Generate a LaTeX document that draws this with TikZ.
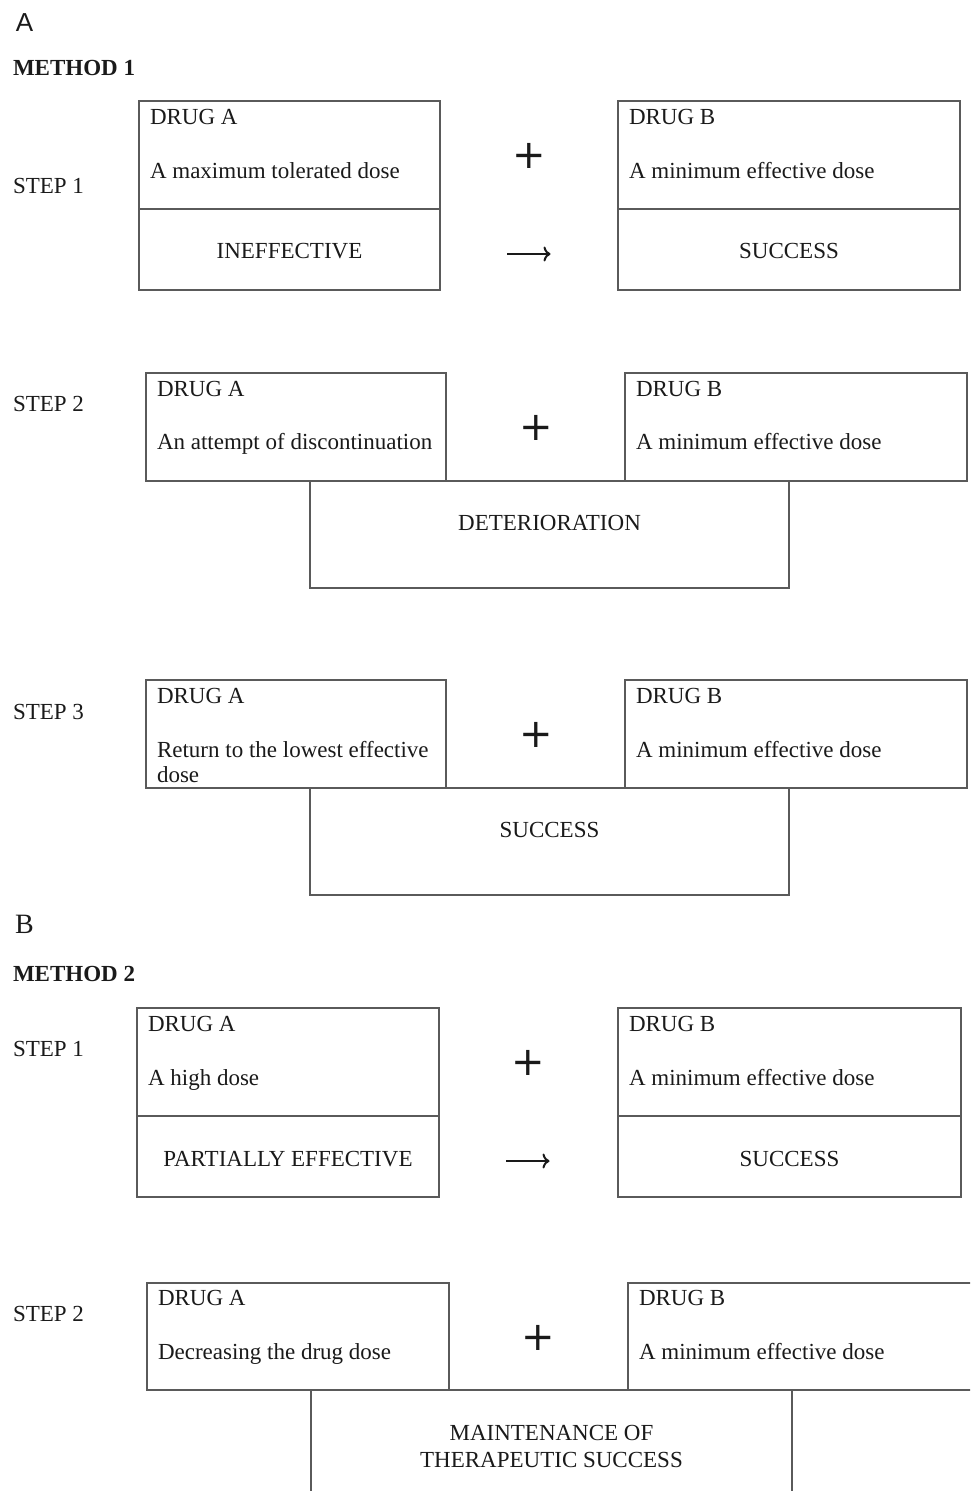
\documentclass[tikz,border=0pt]{standalone}
\usepackage{fontspec}
\usetikzlibrary{arrows.meta}
\setmainfont{Liberation Serif}
\newfontfamily\labelsans{Liberation Sans}
\newfontfamily\symfont{DejaVu Sans}
\definecolor{linegray}{HTML}{5A5A5A}
\definecolor{ink}{HTML}{1A1A1A}
\begin{document}
\begin{tikzpicture}[x=1pt,y=-1pt,
  every node/.style={inner sep=0pt,outer sep=0pt,text=ink},
  box/.style={draw=linegray,line width=1.7pt,anchor=north west,minimum width=#1},
  box/.default=300pt,
  txt/.style={font=\fontsize{23}{26}\selectfont,anchor=base west},
  ctxt/.style={font=\fontsize{23}{26}\selectfont,anchor=base},
  head/.style={font=\fontsize{23}{26}\selectfont\bfseries,anchor=base west},
  plus/.style={font=\symfont\fontsize{40}{40}\selectfont},
  arrowslot/.style={minimum width=44pt,minimum height=18pt},
  symarrow/.style={draw=ink,line width=2.2pt,-{To[length=7pt,width=15pt,line width=2pt]},shorten >=0.5pt}]
\useasboundingbox (0,0) rectangle (970,1491);
\clip (0,0) rectangle (970,1491);
\fill[white] (0,0) rectangle (970,1491);

% ---------- Panel A ----------
\node[font=\labelsans\fontsize{26}{26}\selectfont,anchor=base west] (lA) at (16,31) {A};
\node[head] (m1) at (13,75) {METHOD 1};

% Step 1
\node[txt] (s11) at (13,193) {STEP 1};
\node[box=301pt,minimum height=108pt] (a11) at (139,101) {};
\node[box=301pt,minimum height=81pt] (a11r) at (139,209) {};
\node[box=342pt,minimum height=108pt] (b11) at (618,101) {};
\node[box=342pt,minimum height=81pt] (b11r) at (618,209) {};
\node[txt] (a11t) at (150,124) {DRUG A};
\node[txt] (a11d) at (150,178) {A maximum tolerated dose};
\node[txt] (b11t) at (629,124) {DRUG B};
\node[txt] (b11d) at (629,178) {A minimum effective dose};
\node[ctxt] (a11res) at (289.5,258) {INEFFECTIVE};
\node[ctxt] (b11res) at (789,258) {SUCCESS};
\node[plus] (p11) at (529.5,156) {+};
\node[arrowslot] (r11) at (529,254) {};
\draw[symarrow] (r11.west) -- (r11.east);

% Step 2
\node[txt] (s12) at (13,411) {STEP 2};
\node[box=300pt,minimum height=108pt] (a12) at (146,373) {};
\node[box=342pt,minimum height=108pt] (b12) at (625,373) {};
\node[box=479pt,minimum height=107pt] (r12) at (310,481) {};
\node[txt] (a12t) at (157,396) {DRUG A};
\node[txt] (a12d) at (157,449) {An attempt of discontinuation};
\node[txt] (b12t) at (636,396) {DRUG B};
\node[txt] (b12d) at (636,449) {A minimum effective dose};
\node[ctxt] (r12t) at (549.5,530) {DETERIORATION};
\node[plus] (p12) at (536,428) {+};

% Step 3
\node[txt] (s13) at (13,719) {STEP 3};
\node[box=300pt,minimum height=108pt] (a13) at (146,680) {};
\node[box=342pt,minimum height=108pt] (b13) at (625,680) {};
\node[box=479pt,minimum height=107pt] (r13) at (310,788) {};
\node[txt] (a13t) at (157,703) {DRUG A};
\node[txt] (a13d) at (157,757) {Return to the lowest effective};
\node[txt] (a13e) at (157,782) {dose};
\node[txt] (b13t) at (636,703) {DRUG B};
\node[txt] (b13d) at (636,757) {A minimum effective dose};
\node[ctxt] (r13t) at (549.5,837) {SUCCESS};
\node[plus] (p13) at (536,735) {+};

% ---------- Panel B ----------
\node[font=\fontsize{28}{28}\selectfont,anchor=base west] (lB) at (15,933) {B};
\node[head] (m2) at (13,981) {METHOD 2};

% Step 1
\node[txt] (s21) at (13,1056) {STEP 1};
\node[box=302pt,minimum height=108pt] (a21) at (137,1008) {};
\node[box=302pt,minimum height=81pt] (a21r) at (137,1116) {};
\node[box=343pt,minimum height=108pt] (b21) at (618,1008) {};
\node[box=343pt,minimum height=81pt] (b21r) at (618,1116) {};
\node[txt] (a21t) at (148,1031) {DRUG A};
\node[txt] (a21d) at (148,1085) {A high dose};
\node[txt] (b21t) at (629,1031) {DRUG B};
\node[txt] (b21d) at (629,1085) {A minimum effective dose};
\node[ctxt] (a21res) at (288,1166) {PARTIALLY EFFECTIVE};
\node[ctxt] (b21res) at (789.5,1166) {SUCCESS};
\node[plus] (p21) at (528,1063) {+};
\node[arrowslot] (r21) at (528,1161) {};
\draw[symarrow] (r21.west) -- (r21.east);

% Step 2
\node[txt] (s22) at (13,1321) {STEP 2};
\node[box=302pt,minimum height=107pt] (a22) at (147,1283) {};
\node[box=360pt,minimum height=107pt] (b22) at (628,1283) {};
\node[box=481pt,minimum height=120pt] (r22) at (311,1390) {};
\node[txt] (a22t) at (158,1305) {DRUG A};
\node[txt] (a22d) at (158,1359) {Decreasing the drug dose};
\node[txt] (b22t) at (639,1305) {DRUG B};
\node[txt] (b22d) at (639,1359) {A minimum effective dose};
\node[ctxt] (r22t) at (551.5,1440) {MAINTENANCE OF};
\node[ctxt] (r22u) at (551.5,1467) {THERAPEUTIC SUCCESS};
\node[plus] (p22) at (538,1338) {+};
\end{tikzpicture}
\end{document}
